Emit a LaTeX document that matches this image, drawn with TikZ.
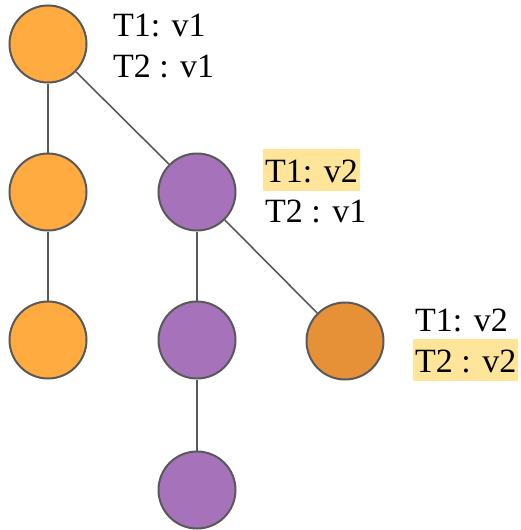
\documentclass[tikz,border=0pt]{standalone}
\usepackage{fontspec}
\setmainfont{Liberation Serif}
\definecolor{orA}{HTML}{FFAB40}
\definecolor{orB}{HTML}{E69138}
\definecolor{pur}{HTML}{A673BA}
\definecolor{edg}{HTML}{595959}
\definecolor{hl}{HTML}{FFE599}
\begin{document}
\begin{tikzpicture}[x=1pt,y=-1pt,
  vert/.style={circle,draw=edg,line width=2pt,minimum size=77pt,inner sep=0pt},
  lbl/.style={anchor=base west,inner xsep=2pt,inner ysep=2pt,text height=31pt,text depth=7pt,font=\fontsize{34}{40}\selectfont},
  hlbl/.style={lbl,fill=hl},
  conn/.style={draw=edg,line width=1.6pt}]
\useasboundingbox (0,0) rectangle (521,530);
\node[vert,fill=orA] (a) at (48,44) {};
\node[vert,fill=orA] (b) at (48,192) {};
\node[vert,fill=orA] (c) at (48,340) {};
\node[vert,fill=pur] (d) at (197,192) {};
\node[vert,fill=pur] (e) at (197,340) {};
\node[vert,fill=pur] (f) at (197,490) {};
\node[vert,fill=orB] (g) at (345,341) {};
\draw[conn] (a) -- (b);
\draw[conn] (b) -- (c);
\draw[conn] (a) -- (d);
\draw[conn] (d) -- (e);
\draw[conn] (e) -- (f);
\draw[conn] (d) -- (g);
\node[lbl] (l1) at (111,36) {T1: v1};
\node[lbl] (l2) at (111,77) {T2 : v1};
\node[hlbl] (l3) at (263,182) {T1: v2};
\node[lbl] (l4) at (263,222) {T2 : v1};
\node[lbl] (l5) at (413,331) {T1: v2};
\node[hlbl] (l6) at (413,372) {T2 : v2};
\end{tikzpicture}
\end{document}
